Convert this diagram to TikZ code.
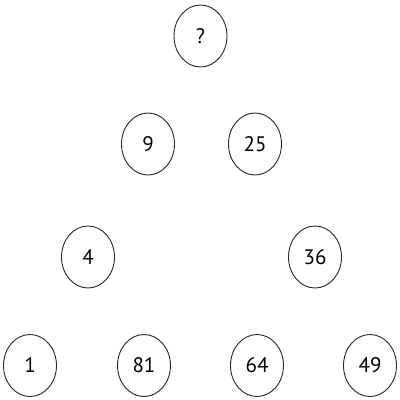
\documentclass[tikz,border=0pt]{standalone}
\usepackage{fontspec}
\setmainfont{PT Sans}
\usetikzlibrary{shapes.geometric}
\begin{document}
\begin{tikzpicture}[x=1pt,y=-1pt,
  num/.style={draw=black!85,line width=0.9pt,ellipse,minimum width=53pt,minimum height=62pt,inner sep=0pt,font=\fontsize{21}{21}\selectfont}]
\useasboundingbox (0,0) rectangle (400,400);
\node[num] (q) at (200.5,36) {?};
\node[num] (n9) at (148,144) {9};
\node[num] (n25) at (255,144) {25};
\node[num] (n4) at (88,257) {4};
\node[num] (n36) at (315,257) {36};
\node[num] (n1) at (30,365.5) {1};
\node[num] (n81) at (144,365.5) {81};
\node[num] (n64) at (257,365.5) {64};
\node[num] (n49) at (370,365.5) {49};
\end{tikzpicture}
\end{document}
